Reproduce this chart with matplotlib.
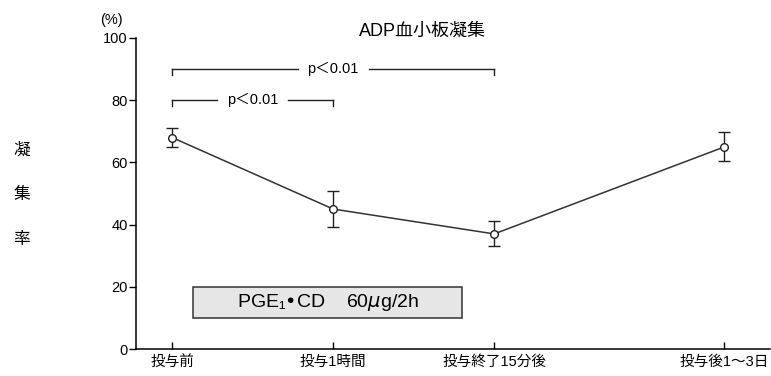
import matplotlib
matplotlib.use("Agg")
import matplotlib.pyplot as plt
from matplotlib.patches import Rectangle

plt.rcParams['font.family'] = ['Liberation Sans', 'Noto Sans CJK JP', 'DejaVu Sans']

categories = ["投与前", "投与1時間", "投与終了15分後", "投与後1〜3日"]
x_pos = [0, 1, 2, 3.43]
values = [68, 45, 37, 65]
errors = [3, 5.7, 4, 4.7]
y_ticks = [0, 20, 40, 60, 80, 100]

fig = plt.figure(figsize=(7.71, 3.76), dpi=100)
ax = fig.add_axes([0.1764, 0.0718, 0.8226, 0.8272])

ax.errorbar(x_pos, values, yerr=errors, color='#333333', lw=1.1,
            marker='o', ms=5.5, mfc='white', mec='#222222', mew=1.0,
            ecolor='#222222', elinewidth=1.0, capsize=4, capthick=1.0, zorder=3)

ax.set_xlim(-0.224, 3.714)
ax.set_ylim(0, 100)
ax.set_xticks(x_pos)
ax.set_xticklabels(categories, fontsize=10.5)
ax.set_yticks(y_ticks)
ax.set_yticklabels([str(v) for v in y_ticks], fontsize=10.5)
ax.tick_params(axis='x', direction='in', length=5, width=1, pad=4)
ax.tick_params(axis='y', direction='out', length=5, width=1, pad=1)
for s in ['top', 'right']:
    ax.spines[s].set_visible(False)
for s in ['left', 'bottom']:
    ax.spines[s].set_linewidth(1.1)


def bracket(x0, x1, y, label, text_x):
    h = 2.0
    kw = dict(color='#222222', lw=1.0, clip_on=False)
    ax.plot([x0, x0], [y - h, y], **kw)
    ax.plot([x1, x1], [y - h, y], **kw)
    half = 0.22
    ax.plot([x0, text_x - half], [y, y], **kw)
    ax.plot([text_x + half, x1], [y, y], **kw)
    ax.text(text_x, y, label, ha='center', va='center', fontsize=10.5)


bracket(0, 1, 80, "p＜0.01", 0.5)
bracket(0, 2, 90, "p＜0.01", 1.0)

ax.add_patch(Rectangle((0.13, 10), 1.67, 10, facecolor='#e6e6e6',
                       edgecolor='#333333', lw=1.1, zorder=2))
ax.text(0.965, 15, "PGE₁•CD    60$\\mu$g/2h", ha='center', va='center', fontsize=14)

fig.text(0.548, 0.918, "ADP血小板凝集", ha='center', va='center', fontsize=13)
fig.text(0.145, 0.948, "(%)", ha='center', va='center', fontsize=10.5)
for i, ch in enumerate("凝集率"):
    fig.text(0.028, 0.6 - i * 0.118, ch, ha='center', va='center', fontsize=12)

fig.savefig("out.png", dpi=100)
